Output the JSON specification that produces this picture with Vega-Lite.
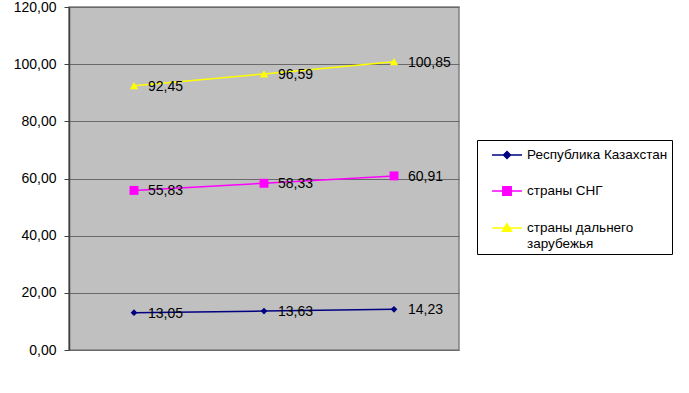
{
  "$schema": "https://vega.github.io/schema/vega-lite/v6.json",
  "width": 390,
  "height": 343,
  "autosize": "none",
  "padding": {"left": 69, "top": 7, "right": 230, "bottom": 43},
  "background": "white",
  "config": {
    "view": {"fill": "#C0C0C0", "stroke": "#808080", "strokeWidth": 1.5},
    "font": "Liberation Sans, Arial, sans-serif"
  },
  "data": {
    "values": [
      {"period": "1", "series": "Республика Казахстан", "value": 13.05},
      {"period": "2", "series": "Республика Казахстан", "value": 13.63},
      {"period": "3", "series": "Республика Казахстан", "value": 14.23},
      {"period": "1", "series": "страны СНГ", "value": 55.83},
      {"period": "2", "series": "страны СНГ", "value": 58.33},
      {"period": "3", "series": "страны СНГ", "value": 60.91},
      {"period": "1", "series": "страны  дальнего зарубежья", "value": 92.45},
      {"period": "2", "series": "страны  дальнего зарубежья", "value": 96.59},
      {"period": "3", "series": "страны  дальнего зарубежья", "value": 100.85}
    ]
  },
  "encoding": {
    "x": {
      "field": "period", "type": "ordinal",
      "scale": {"type": "point", "padding": 0.5},
      "axis": {"labels": false, "ticks": false, "domain": false, "title": null, "grid": false}
    },
    "y": {
      "field": "value", "type": "quantitative",
      "scale": {"domain": [0, 120], "nice": false, "zero": true},
      "axis": {
        "values": [0, 20, 40, 60, 80, 100, 120],
        "title": null,
        "labelExpr": "replace(format(datum.value, '.2f'), '.', ',')",
        "labelFontSize": 14,
        "labelColor": "black",
        "labelPadding": 8,
        "tickSize": 5,
        "tickColor": "#404040",
        "domainColor": "#404040",
        "domainWidth": 1.5,
        "grid": true,
        "gridColor": "#6a6a6a",
        "gridWidth": 1.2,
        "gridOpacity": 1
      }
    }
  },
  "layer": [
    {
      "mark": {"type": "line", "strokeWidth": 1.5},
      "encoding": {
        "color": {
          "field": "series", "type": "nominal",
          "scale": {
            "domain": ["Республика Казахстан", "страны СНГ", "страны  дальнего зарубежья"],
            "range": ["#000080", "#FF00FF", "#FFFF00"]
          },
          "legend": {
            "orient": "none",
            "legendX": 408,
            "legendY": 133,
            "title": null,
            "direction": "vertical",
            "fillColor": "white",
            "strokeColor": "black",
            "padding": 4,
            "labelFontSize": 13.5,
            "labelColor": "black",
            "labelOffset": 9,
            "symbolOffset": 15,
            "symbolSize": 400,
            "symbolStrokeWidth": 1.5,
            "rowPadding": 18,
            "labelLimit": 300,
            "labelExpr": "datum.label == 'страны  дальнего зарубежья' ? ['страны  дальнего', 'зарубежья'] : datum.label",
            "encode": {
              "symbols": {
                "update": {
                  "shape": {"signal": "datum.index == 0 ? 'M-1.5,0H1.5M0,-0.35L0.35,0L0,0.35L-0.35,0Z' : datum.index == 1 ? 'M-1.5,0H1.5M-0.42,-0.42H0.42V0.42H-0.42Z' : 'M-1.5,0H1.5M0,-0.42L0.45,0.33H-0.45Z'"},
                  "fill": {"signal": "scale('color', datum.value)"},
                  "stroke": {"signal": "scale('color', datum.value)"},
                  "strokeWidth": {"value": 1.5},
                  "size": {"value": 400}
                }
              }
            }
          }
        }
      }
    },
    {
      "mark": {"type": "point", "filled": true, "opacity": 1},
      "encoding": {
        "color": {"field": "series", "type": "nominal", "legend": null},
        "shape": {
          "condition": [
            {"test": "datum.series == 'страны СНГ'", "value": "square"},
            {"test": "datum.series == 'страны  дальнего зарубежья'", "value": "triangle-up"}
          ],
          "value": "diamond"
        },
        "size": {
          "condition": [
            {"test": "datum.series == 'страны СНГ'", "value": 80},
            {"test": "datum.series == 'страны  дальнего зарубежья'", "value": 70}
          ],
          "value": 45
        }
      }
    },
    {
      "transform": [{"calculate": "replace(format(datum.value, '.2f'), '.', ',')", "as": "label"}],
      "mark": {"type": "text", "align": "left", "baseline": "middle", "dx": 14, "dy": 1, "fontSize": 14, "color": "black"},
      "encoding": {
        "text": {"field": "label", "type": "nominal"}
      }
    }
  ]
}
